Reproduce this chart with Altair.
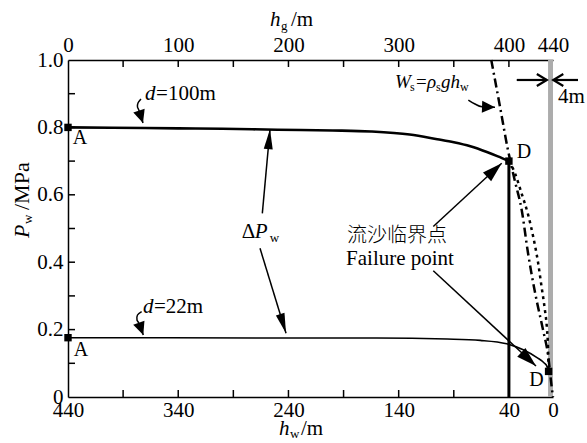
import altair as alt
import pandas as pd

SERIF = "Liberation Serif, Times New Roman, DejaVu Serif, serif"
CJK = "Noto Sans CJK SC"
W, H = 485, 337

# ---------------- data ----------------
# d = 100 m curve (h_w in m, P_w in MPa)
hw_d100 = [440, 400, 340, 300, 250, 200, 165, 130, 105, 90, 75, 60, 50, 40]
pw_d100 = [0.800, 0.799, 0.797, 0.796, 0.793, 0.791, 0.788, 0.779, 0.765, 0.756, 0.744, 0.727, 0.714, 0.700]
# d = 22 m curve
hw_d22 = [440, 350, 250, 160, 96, 66, 42, 27, 14.5, 8, 5.5, 4]
pw_d22 = [0.176, 0.176, 0.175, 0.175, 0.172, 0.168, 0.158, 0.140, 0.117, 0.101, 0.091, 0.076]
# dotted curve between the two failure points
hw_dot = [40, 34.5, 28.5, 22.5, 18, 13.5, 10.5, 7.5, 5.5, 4.5, 4]
pw_dot = [0.700, 0.664, 0.604, 0.540, 0.476, 0.398, 0.330, 0.262, 0.203, 0.145, 0.076]
# W_s = rho_s g h_w (dash-dot)
hw_ws = [56, 48, 41, 34.5, 28.4, 22.7, 16.3, 9.1, 4.5, 1.2, 0]
pw_ws = [1.0, 0.86, 0.735, 0.64, 0.555, 0.428, 0.31, 0.20, 0.125, 0.03, 0.0]
# vertical line at h_w = 40 m
hw_vert = [40, 40]
pw_vert = [0.0, 0.700]
# marked points
pt_hw = [440, 440, 40, 4]
pt_pw = [0.800, 0.176, 0.700, 0.076]
pt_lab = ["A", "A", "D", "D"]
# gray 4 m strip
strip_hw = [4.5]
strip_hw2 = [0]
# axes
x_label_vals = [440, 340, 240, 140, 40, 0]
x_minor = [390, 340, 290, 240, 190, 140, 90, 40]
y_label_vals = [0, 0.2, 0.4, 0.6, 0.8, 1.0]
y_minor = [0.1, 0.2, 0.3, 0.4, 0.5, 0.6, 0.7, 0.8, 0.9]

# annotation arrows (data coordinates): id -> list of (h_w, P)
arrow_paths = {
    "dp_up": [(263.7, 0.545), (256.75, 0.7944)],
    "dp_dn": [(265.8, 0.4412), (242.2, 0.189)],
    "f_up": [(108.6, 0.506), (46.55, 0.6935)],
    "f_dn": [(108.6, 0.3748), (15.43, 0.092)],
    "c100": [(373.8, 0.8843), (376.5, 0.8724), (376.95, 0.8605), (375.6, 0.8501), (371.96, 0.8131)],
    "c22": [(373.2, 0.2531), (376.95, 0.2433), (377.4, 0.2285), (375.6, 0.2181), (371.7, 0.184)],
    "cws": [(76.8, 0.8813), (70.77, 0.8694), (64.4, 0.8611), (52.6, 0.8597)],
}
four_m_paths = {
    "r": [(32.9, 0.9407), (5.6, 0.9407)],
    "l": [(-22.7, 0.9407), (-0.27, 0.9407)],
}
# arrowhead tips: (h_w, P, angle)
heads_narrow = [(256.75, 0.7944, 5), (242.2, 0.189, 163)]
heads_fail = [(46.55, 0.6935, 47), (15.43, 0.092, 133)]
heads_curl = [(371.96, 0.8131, 162), (371.7, 0.184, 160), (52.6, 0.8597, 92)]
chevrons = [(5.6, 0.9407, 90), (-0.27, 0.9407, 270)]

# ---------------- helpers ----------------
X_SCALE = alt.Scale(domain=[0, 440], reverse=True, nice=False, zero=False)
Y_SCALE = alt.Scale(domain=[0, 1], nice=False, zero=False)


def X(field="hw", axis=None):
    return alt.X(f"{field}:Q", scale=X_SCALE, axis=axis)


def Y(field="pw", axis=None):
    return alt.Y(f"{field}:Q", scale=Y_SCALE, axis=axis)


axis_common = dict(ticks=False, domain=True, domainColor="black", domainWidth=1.5,
                   labelFont=SERIF, labelFontSize=21, labelColor="black",
                   labelFlush=False, labelOverlap=False, grid=False, title=None)

bottom_axis = alt.Axis(orient="bottom", values=x_label_vals, format="d", labelPadding=2, **axis_common)
top_axis = alt.Axis(orient="top", values=x_label_vals, labelExpr="format(440 - datum.value, 'd')",
                    labelPadding=5, **axis_common)
left_axis = alt.Axis(orient="left", values=y_label_vals,
                     labelExpr="datum.value == 0 ? '0' : format(datum.value, '.1f')",
                     labelPadding=5, **axis_common)


def line(hw, pw, width, dash=None, axis_x=None, axis_y=None, interp="monotone"):
    kw = dict(color="black", strokeWidth=width, interpolate=interp)
    if dash:
        kw["strokeDash"] = dash
    return alt.Chart(pd.DataFrame({"hw": hw, "pw": pw})).mark_line(**kw).encode(
        x=X(axis=axis_x), y=Y(axis=axis_y))


def paths_df(paths):
    rows = []
    for k, pts in paths.items():
        for i, (h, p) in enumerate(pts):
            rows.append({"id": k, "i": i, "hw": h, "pw": p})
    return pd.DataFrame(rows)


def heads(lst, shape, size, filled=True, sw=0):
    d = pd.DataFrame(lst, columns=["hw", "pw", "ang"])
    kw = dict(shape=shape, size=size, filled=filled, opacity=1, color="black")
    kw["strokeWidth"] = sw
    return alt.Chart(d).mark_point(**kw).encode(
        x=X(), y=Y(), angle=alt.Angle("ang:Q", scale=None))


def txt(s, hw=None, pw=None, px=None, py=None, size=21, italic=False, dx=0, dy=0,
        font=SERIF, align="left", angle=None, weight=None):
    d = pd.DataFrame({"hw": [hw if hw is not None else 0], "pw": [pw if pw is not None else 0], "t": [s]})
    kw = dict(font=font, fontSize=size, align=align, baseline="middle", dx=dx, dy=dy, color="black")
    if italic:
        kw["fontStyle"] = "italic"
    if angle is not None:
        kw["angle"] = angle
    if weight is not None:
        kw["fontWeight"] = weight
    enc = dict(text="t:N")
    if px is not None:
        enc["x"] = alt.value(px)
        enc["y"] = alt.value(py)
    else:
        enc["x"] = X()
        enc["y"] = Y()
    return alt.Chart(d).mark_text(**kw).encode(**enc)


# ---------------- layers ----------------
strip = alt.Chart(pd.DataFrame({"hw": strip_hw, "hw2": strip_hw2})).mark_rect(color="#acacac").encode(
    x=X(), x2="hw2:Q", y=alt.value(0), y2=alt.value(H))

tick_b = alt.Chart(pd.DataFrame({"hw": x_minor})).mark_rule(color="black", strokeWidth=1.5).encode(
    x=X(), y=alt.value(H), y2=alt.value(H - 7))
tick_t = alt.Chart(pd.DataFrame({"hw": x_minor})).mark_rule(color="black", strokeWidth=1.5).encode(
    x=X(), y=alt.value(0), y2=alt.value(7))
tick_l = alt.Chart(pd.DataFrame({"pw": y_minor})).mark_rule(color="black", strokeWidth=1.5).encode(
    y=Y(), x=alt.value(0), x2=alt.value(7))

c100 = line(hw_d100, pw_d100, 2.6, axis_x=bottom_axis, axis_y=left_axis)
c22 = line(hw_d22, pw_d22, 1.6, axis_x=top_axis)
cvert = line(hw_vert, pw_vert, 3.0, interp="linear")
cws = line(hw_ws, pw_ws, 2.5, dash=[9, 4, 2, 4])
cdot = line(hw_dot, pw_dot, 2.5, dash=[3, 4])

marks = alt.Chart(pd.DataFrame({"hw": pt_hw, "pw": pt_pw})).mark_point(
    shape="square", filled=True, size=55, opacity=1, color="black").encode(x=X(), y=Y())

lab_off = [(12, 11), (13, 12), (15, -9), (-12, 9)]
labels = [txt(pt_lab[i], hw=pt_hw[i], pw=pt_pw[i], dx=lab_off[i][0], dy=lab_off[i][1], size=20, align="center")
          for i in range(4)]

arrows = alt.Chart(paths_df(arrow_paths)).mark_line(color="black", strokeWidth=1.5, interpolate="cardinal").encode(
    x=X(), y=Y(), detail="id:N", order="i:Q")
arrows4 = alt.Chart(paths_df(four_m_paths)).mark_line(color="black", strokeWidth=2.2).encode(
    x=X(), y=Y(), detail="id:N", order="i:Q")

h_narrow = heads(heads_narrow, "M0,0L0.225,1L-0.225,1Z", 1600)
h_fail = heads(heads_fail, "M0,0L0.3,1L-0.3,1Z", 1600)
h_curl = heads(heads_curl, "M0,0L0.46,1L-0.46,1Z", 676)
h_chev = heads(chevrons, "M-0.6,1L0,0L0.6,1", 400, filled=False, sw=2.2)

texts = [
    # d = 100 m
    txt("d", hw=370.1, pw=0.899, italic=True),
    txt("=100m", hw=370.1, pw=0.899, dx=11),
    # d = 22 m
    txt("d", hw=372.0, pw=0.268, italic=True),
    txt("=22m", hw=372.0, pw=0.268, dx=11),
    # Delta P_w
    txt("Δ", hw=282.4, pw=0.4905),
    txt("P", hw=282.4, pw=0.4905, italic=True, dx=13),
    txt("w", hw=282.4, pw=0.4905, size=13, dx=28, dy=6),
    # failure point
    txt("流沙临界点", hw=141.5, pw=0.478, font=CJK, size=20, align="center", weight=300),
    txt("Failure point", hw=138.8, pw=0.4095, align="center"),
    # W_s = rho_s g h_w
    txt("W", hw=143.3, pw=0.9356, size=19, italic=True),
    txt("s", hw=143.3, pw=0.9356, size=12, dx=15, dy=5),
    txt("=", hw=143.3, pw=0.9356, size=19, dx=21),
    txt("ρ", hw=143.3, pw=0.9356, size=19, italic=True, dx=32),
    txt("s", hw=143.3, pw=0.9356, size=12, dx=41, dy=5),
    txt("gh", hw=143.3, pw=0.9356, size=19, italic=True, dx=46),
    txt("w", hw=143.3, pw=0.9356, size=12, dx=65, dy=5),
    # 4 m
    txt("4m", hw=-4.53, pw=0.891),
    # axis titles
    txt("h", px=202, py=-40, italic=True),
    txt("g", px=213, py=-34, size=13),
    txt("/m", px=223, py=-40),
    txt("h", px=211, py=369, italic=True),
    txt("w", px=222, py=374, size=13),
    txt("/m", px=233, py=369),
    txt("P", px=-46, py=178, italic=True, angle=270, size=22),
    txt("w", px=-46, py=178, size=13, dx=14, dy=6, angle=270),
    txt("/MPa", px=-46, py=178, dx=28, angle=270, size=22),
]

chart = alt.layer(
    strip, tick_b, tick_t, tick_l, c100, c22, cvert, cws, cdot, marks, *labels,
    arrows, arrows4, h_narrow, h_fail, h_curl, h_chev, *texts
).resolve_axis(x="independent", y="independent").properties(
    width=W, height=H,
    padding={"left": 68, "top": 60, "right": 34, "bottom": 46},
    autosize=alt.AutoSizeParams(type="none"),
).configure_view(stroke=None)

chart.save("out.html", embed_options={"renderer": "svg", "actions": False})
